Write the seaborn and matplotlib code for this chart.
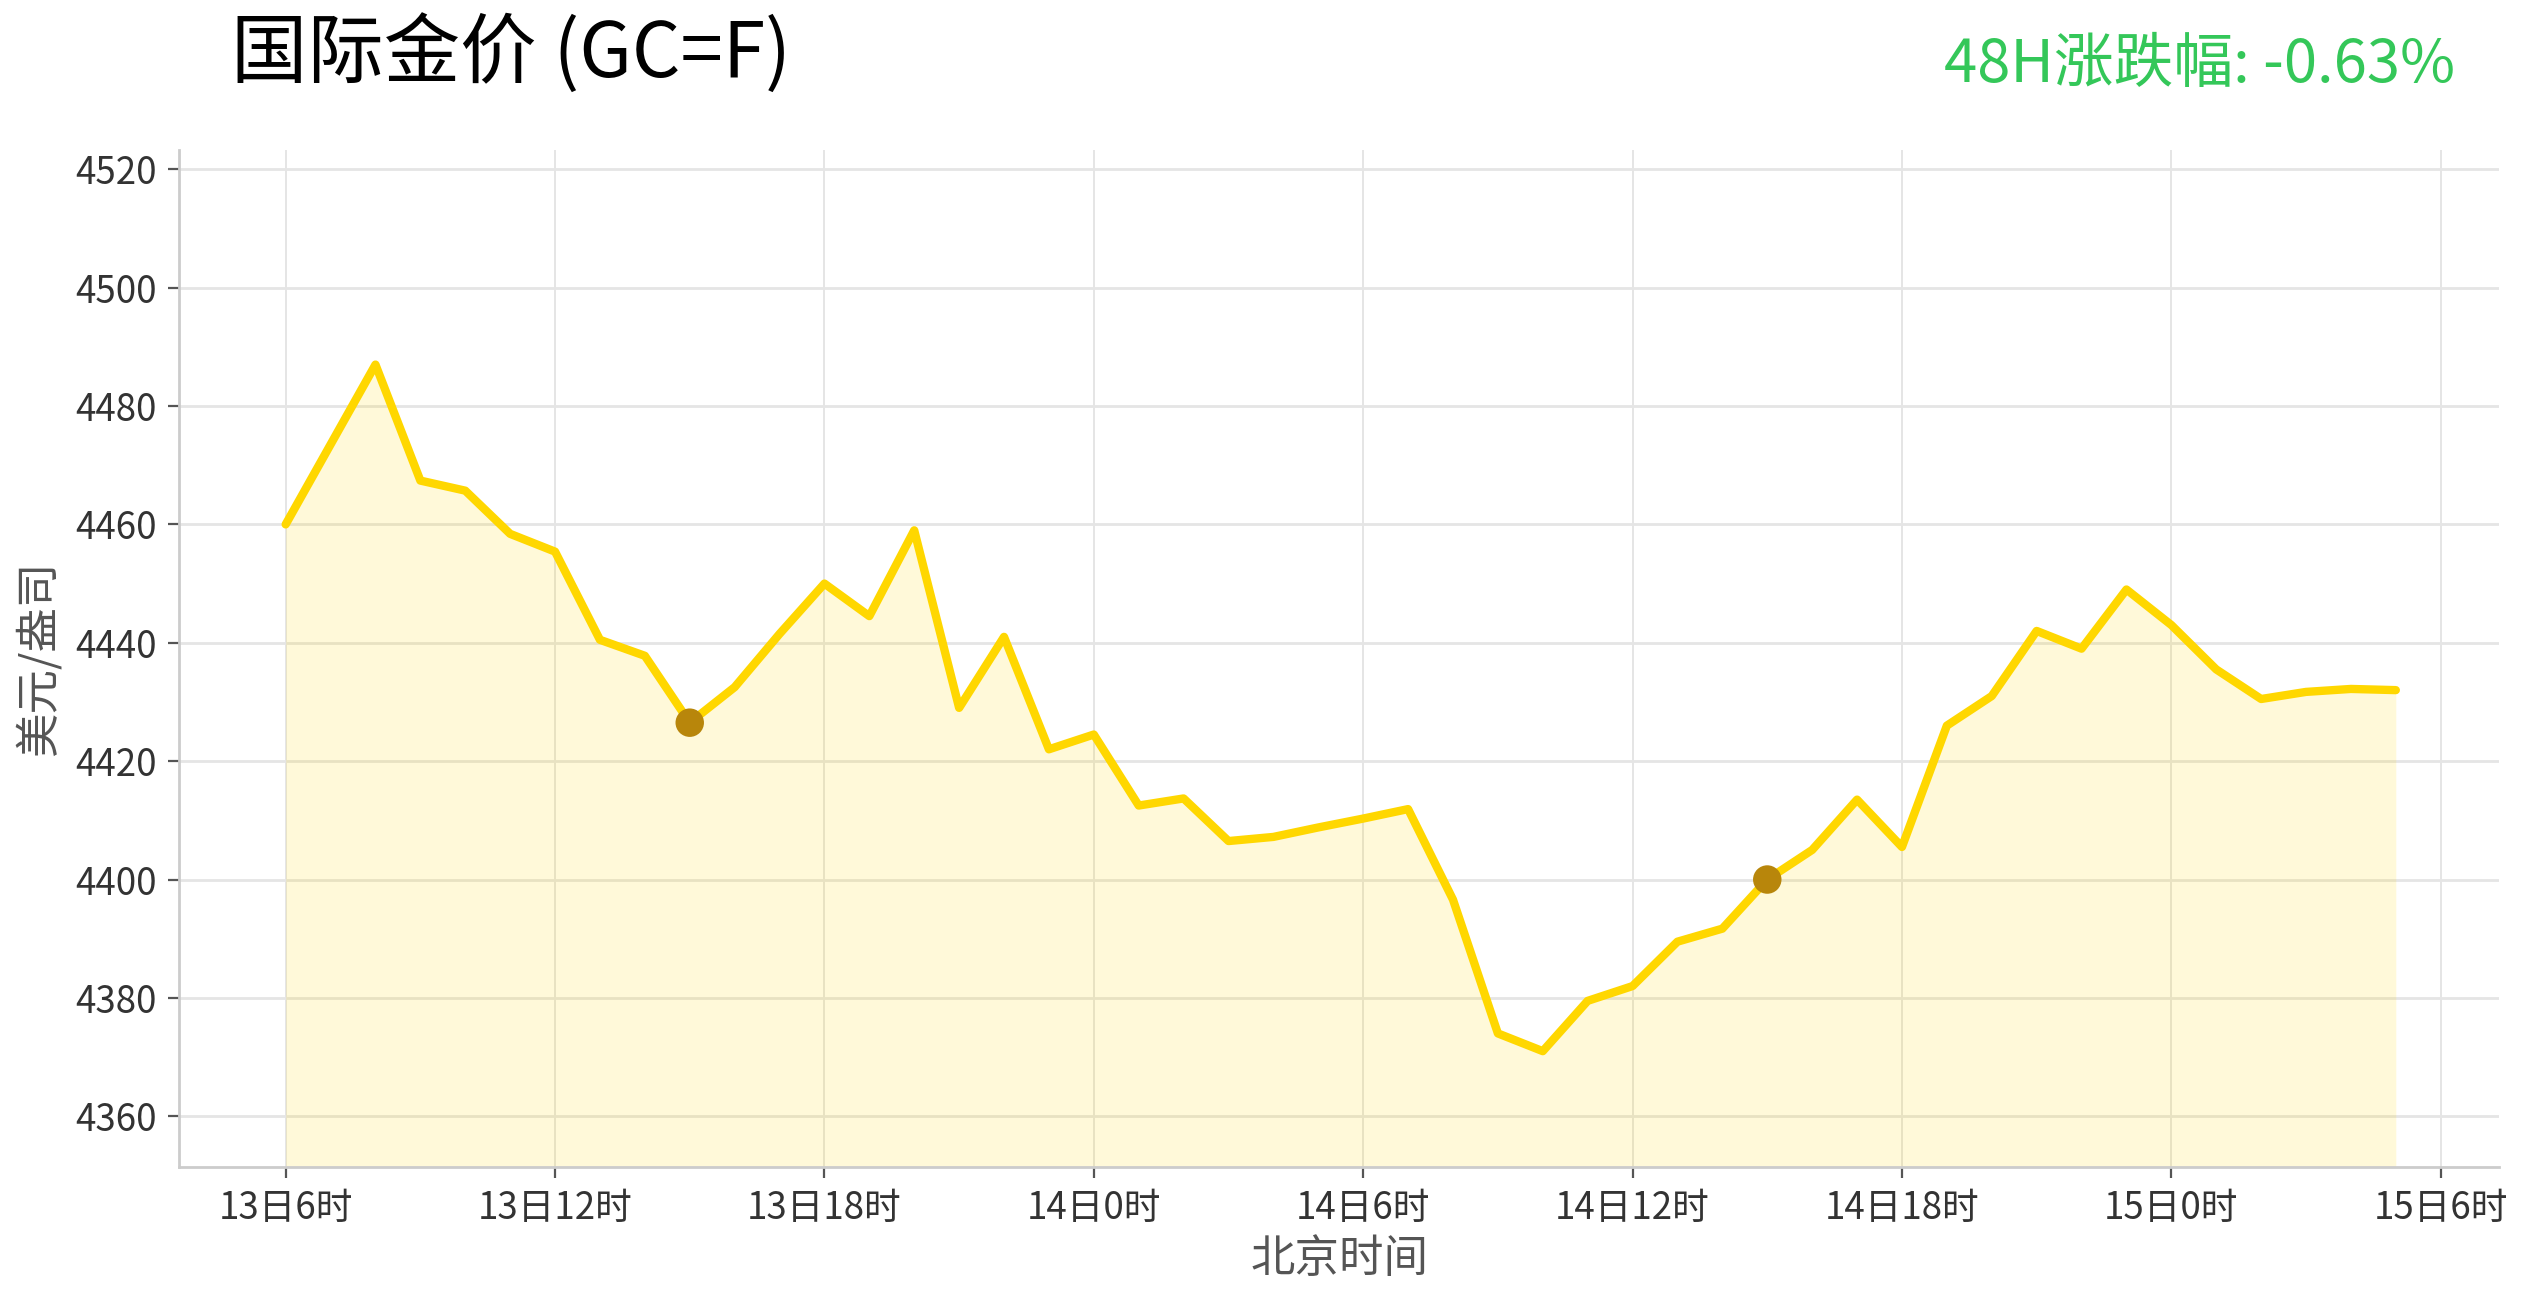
import pandas as pd
import seaborn as sns
import matplotlib.pyplot as plt
import matplotlib.dates as mdates

# hourly gold futures price, 13日6时 .. 15日5时 (Beijing time)
start_time = "2026-01-13 06:00"
prices = [4460.0, 4473.5, 4487.0, 4467.4, 4465.7, 4458.4, 4455.4, 4440.5,
          4437.8, 4426.5, 4432.5, 4441.5, 4450.0, 4444.5, 4459.0, 4429.0,
          4441.0, 4422.0, 4424.5, 4412.5, 4413.7, 4406.5, 4407.2, 4408.8,
          4410.3, 4411.9, 4396.6, 4374.0, 4371.0, 4379.5, 4382.0, 4389.5,
          4391.7, 4400.0, 4405.0, 4413.5, 4405.5, 4426.0, 4431.0, 4442.0,
          4439.0, 4449.0, 4443.0, 4435.5, 4430.5, 4431.7, 4432.2, 4432.0]
marked_idx = [9, 33]

title_text = "国际金价 (GC=F)"
change_text = "48H涨跌幅: -0.63%"
x_label = "北京时间"
y_label = "美元/盎司"

df = pd.DataFrame({
    "time": pd.date_range(start_time, periods=len(prices), freq="h"),
    "price": prices,
})
marks = df.iloc[marked_idx]

sns.set_theme(style="whitegrid")
plt.rcParams["font.family"] = ["Noto Sans CJK SC", "DejaVu Sans"]
plt.rcParams["axes.unicode_minus"] = False

fig = plt.figure(figsize=(12.66, 6.51), dpi=200)
ax = fig.add_axes([0.0708, 0.104, 0.9162, 0.781])

y_lo, y_hi = 4351.5, 4523.3
ax.fill_between(df["time"], df["price"], y_lo, color="#FFD700", alpha=0.15, linewidth=0)
sns.lineplot(data=df, x="time", y="price", ax=ax, color="#FFD700", linewidth=3.0)
sns.scatterplot(data=marks, x="time", y="price", ax=ax, color="#B8860B",
                s=105, edgecolor="none", zorder=5)

t0 = df["time"].iloc[0]
ax.set_xlim(t0 - pd.Timedelta(hours=2.37), t0 + pd.Timedelta(hours=49.3))
ax.set_ylim(y_lo, y_hi)
ax.set_yticks([4360, 4380, 4400, 4420, 4440, 4460, 4480, 4500, 4520])

ax.xaxis.set_major_locator(mdates.HourLocator(byhour=[0, 6, 12, 18]))
ax.xaxis.set_major_formatter(
    plt.FuncFormatter(lambda v, p: "{}日{}时".format(mdates.num2date(v).day, mdates.num2date(v).hour)))

ax.grid(True, color="#e5e5e5", linewidth=1.0)
ax.xaxis.grid(True, linewidth=0.7)
for side in ["top", "right"]:
    ax.spines[side].set_visible(False)
for side in ["left", "bottom"]:
    ax.spines[side].set_color("#cccccc")
    ax.spines[side].set_linewidth(1.0)

ax.tick_params(axis="both", which="major", labelsize=13.2, labelcolor="#333333",
               length=4, width=0.8, color="#555555", left=True, bottom=True, pad=4)
ax.set_xlabel(x_label, fontsize=16, color="#555555", labelpad=3)
ax.set_ylabel(y_label, fontsize=16, color="#555555", labelpad=5)

fig.text(0.0912, 0.958, title_text, fontsize=27.5, color="black", ha="left", va="center")
fig.text(0.9695, 0.950, change_text, fontsize=21.5, color="#34C759", ha="right", va="center")

fig.savefig("out.png", dpi=200)
